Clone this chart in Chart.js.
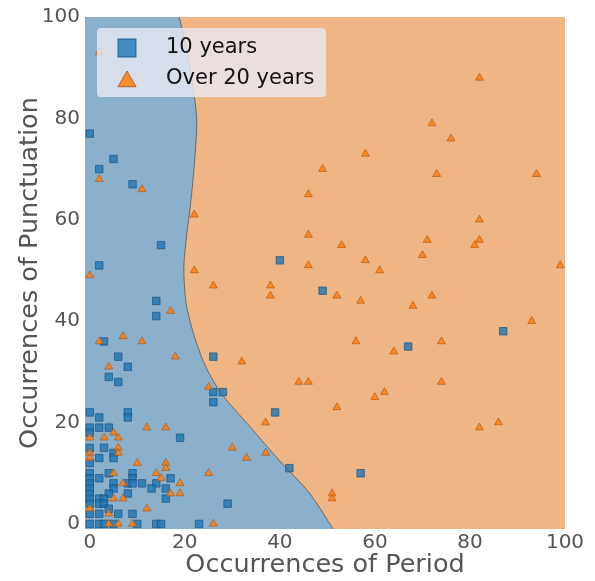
<!DOCTYPE html>
<html>
<head>
<meta charset="utf-8">
<script src="https://cdn.jsdelivr.net/npm/chart.js@4.4.0/dist/chart.umd.min.js"></script>
<style>
  html, body { margin: 0; padding: 0; background: #fff; }
</style>
</head>
<body>
<canvas id="myChart" width="595" height="581"></canvas>
<script>
// points

// 10 years (blue squares)
const tenYearsPeriod = [0, 5, 2, 9, 15, 40, 2, 49, 14, 14, 87, 3, 67, 6, 26, 8, 4, 6, 26, 28, 26,
    0, 39, 8, 2, 8, 0, 2, 4, 0, 19, 3, 0, 5, 5, 2, 0, 42, 57, 0, 4, 9, 0, 2, 9, 17,
    0, 5, 8, 9, 11, 14, 0, 5, 13, 16, 0, 4, 8, 0, 2, 3, 16, 0, 2, 3, 29, 4,
    0, 2, 6, 9, 0, 2, 3, 5, 10, 14, 15, 23]
const tenYearsPunct = [77, 72, 70, 67, 55, 52, 51, 46, 44, 41, 38, 36, 35, 33, 33, 31, 29, 28, 26, 26, 24,
    22, 22, 22, 21, 21, 19, 19, 19, 18, 17, 15, 15, 14, 13, 13, 12, 11, 10, 10, 10, 10, 9, 9, 9, 9,
    8, 8, 8, 8, 8, 8, 7, 7, 7, 7, 6, 6, 6, 5, 5, 5, 5, 4, 4, 4, 4, 3,
    2, 2, 2, 2, 0, 0, 0, 0, 0, 0, 0, 0]

// over 20 years (orange triangles)
const overTwentyPeriod = [2, 82, 72, 76, 58, 49, 73, 94, 2, 11, 46, 22, 82, 46, 71, 82, 53, 81, 70, 58,
    46, 99, 0, 22, 61, 26, 38, 38, 52, 72, 57, 68, 17, 93, 7, 2, 11, 56, 74, 64, 18, 32, 4,
    44, 46, 74, 25, 62, 60, 52, 37, 86, 82, 12, 16, 5, 0, 3, 6, 30, 6, 37, 6, 0, 0, 33,
    10, 16, 16, 14, 25, 5, 15, 7, 19, 17, 19, 51, 51, 5, 7, 0, 12, 4, 4, 6, 9, 26]
const overTwentyPunct = [93, 88, 79, 76, 73, 70, 69, 69, 68, 66, 65, 61, 60, 57, 56, 56, 55, 55, 53, 52,
    51, 51, 49, 50, 50, 47, 47, 45, 45, 45, 44, 43, 42, 40, 37, 36, 36, 36, 36, 34, 33, 32, 31,
    28, 28, 28, 27, 26, 25, 23, 20, 20, 19, 19, 19, 18, 17, 17, 17, 15, 15, 14, 14, 14, 13, 13,
    12, 12, 11, 10, 10, 10, 9, 8, 8, 6, 6, 6, 5, 5, 5, 3, 3, 2, 0, 0, 0, 0]

// decision boundary: period value for each punctuation value, top to bottom
// (first and last points run a little past the plot so the curve leaves it cleanly)
const edgePeriod = [15, 17.2, 18.8, 20.2, 21.4, 22.5, 22.1, 21.2, 20.4, 19.8, 20.2, 21.1, 22.5,
    24.4, 27.7, 33.7, 39.8, 46.3, 51.2, 54, 57.5]
const edgePunct = [115, 106, 100, 94.6, 88, 80, 72, 63, 57, 50.6, 44, 40, 35.6,
    31, 25.7, 19.2, 12.6, 6, -1, -5, -10]

const xTicks = [0, 20, 40, 60, 80, 100]
const yTicks = [0, 20, 40, 60, 80, 100]

const legendNames = ['10 years', 'Over 20 years']

const blueArea = '#8bb0cc'
const orangeArea = '#f0b585'
const blueMark = 'rgba(31, 119, 180, 0.8)'
const blueEdge = 'rgba(20, 75, 125, 0.8)'
const orangeMark = 'rgba(255, 127, 14, 0.85)'
const orangeEdge = 'rgba(170, 85, 20, 0.8)'
const textGrey = '#555555'


function pairs(xs, ys) {
    return xs.map((x, i) => ({x: x, y: ys[i]}))
}

const edgeLine = pairs(edgePeriod, edgePunct)
// blue side: go round the far left, then down the boundary
const blueShape = [{x: -20, y: -10}, {x: -20, y: 115}].concat(edgeLine)


// orange is the plot background, blue is drawn on top of it
const areaBackground = {
    id: 'areaBackground',
    beforeDatasetsDraw(chart) {
        const {ctx, chartArea} = chart
        ctx.save()
        ctx.fillStyle = orangeArea
        ctx.fillRect(chartArea.left, chartArea.top, chartArea.width, chartArea.height)
        ctx.restore()
    }
}

// matplotlib-like legend box in the upper left corner
const boxLegend = {
    id: 'boxLegend',
    afterDraw(chart) {
        const {ctx, chartArea} = chart
        const left = chartArea.left + 12
        const top = chartArea.top + 11
        ctx.save()
        ctx.beginPath()
        ctx.roundRect(left, top, 229, 69, 4)
        ctx.fillStyle = 'rgba(234, 234, 242, 0.8)'
        ctx.fill()

        // square
        ctx.fillStyle = blueMark
        ctx.strokeStyle = blueEdge
        ctx.lineWidth = 1
        ctx.fillRect(left + 21, top + 11, 18, 18)
        ctx.strokeRect(left + 21, top + 11, 18, 18)

        // triangle
        const r = 10.5
        const cx = left + 30
        const cy = top + 53.5
        ctx.beginPath()
        ctx.moveTo(cx, cy - r)
        ctx.lineTo(cx + r * Math.sqrt(3) / 2, cy + r / 2)
        ctx.lineTo(cx - r * Math.sqrt(3) / 2, cy + r / 2)
        ctx.closePath()
        ctx.fillStyle = orangeMark
        ctx.strokeStyle = orangeEdge
        ctx.fill()
        ctx.stroke()

        ctx.fillStyle = '#111'
        ctx.font = '21px "DejaVu Sans"'
        ctx.textBaseline = 'alphabetic'
        ctx.fillText(legendNames[0], left + 69, top + 25)
        ctx.fillText(legendNames[1], left + 69, top + 56)
        ctx.restore()
    }
}


const ctx = document.querySelector('#myChart').getContext('2d')

let chart = new Chart(ctx, {
    type: 'scatter',
    data: {
        datasets: [{
            label: legendNames[1],
            data: pairs(overTwentyPeriod, overTwentyPunct),
            pointStyle: 'triangle',
            pointRadius: 4.6,
            backgroundColor: orangeMark,
            borderColor: orangeEdge,
            borderWidth: 0.8,
            order: 1
        }, {
            label: legendNames[0],
            data: pairs(tenYearsPeriod, tenYearsPunct),
            pointStyle: 'rect',
            pointRadius: 5.3,
            backgroundColor: blueMark,
            borderColor: blueEdge,
            borderWidth: 0.8,
            order: 2
        }, {
            type: 'line',
            label: 'boundary',
            data: edgeLine,
            borderColor: 'rgba(60, 60, 60, 0.8)',
            borderWidth: 0.8,
            pointRadius: 0,
            tension: 0.3,
            capBezierPoints: false,
            fill: false,
            order: 3
        }, {
            type: 'line',
            label: 'blue area',
            data: blueShape,
            borderWidth: 0,
            borderColor: 'rgba(0,0,0,0)',
            backgroundColor: blueArea,
            pointRadius: 0,
            tension: 0.3,
            capBezierPoints: false,
            fill: 'shape',
            order: 4
        }]
    },
    options: {
        responsive: false,
        animation: false,
        layout: {padding: {top: 16, right: 30, bottom: 0, left: 0}},
        plugins: {
            legend: {display: false},
            tooltip: {enabled: false}
        },
        scales: {
            x: {
                type: 'linear',
                min: -1,
                max: 100,
                z: 1,
                afterFit: s => { s.height = 52 },
                afterBuildTicks: s => { s.ticks = xTicks.map(v => ({value: v})) },
                grid: {color: 'rgba(255, 255, 255, 0.25)', drawTicks: false},
                border: {display: false},
                ticks: {
                    color: textGrey,
                    font: {family: 'DejaVu Sans', size: 20},
                    padding: 2,
                    autoSkip: false,
                    maxRotation: 0
                },
                title: {
                    display: true,
                    text: 'Occurrences of Period',
                    color: textGrey,
                    font: {family: 'DejaVu Sans', size: 25.5},
                    padding: 0
                }
            },
            y: {
                type: 'linear',
                min: -1,
                max: 100,
                z: 1,
                afterFit: s => { s.width = 85 },
                afterBuildTicks: s => { s.ticks = yTicks.map(v => ({value: v})) },
                grid: {color: 'rgba(255, 255, 255, 0.25)', drawTicks: false},
                border: {display: false},
                ticks: {
                    color: textGrey,
                    font: {family: 'DejaVu Sans', size: 20},
                    padding: 5,
                    autoSkip: false
                },
                title: {
                    display: true,
                    text: 'Occurrences of Punctuation',
                    color: textGrey,
                    font: {family: 'DejaVu Sans', size: 25.5},
                    padding: {top: 15, bottom: 0}
                }
            }
        }
    },
    plugins: [areaBackground, boxLegend]
})
</script>
</body>
</html>
